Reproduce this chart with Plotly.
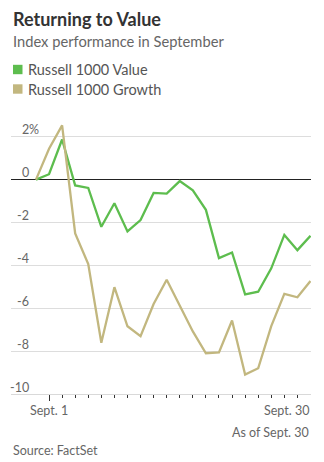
import plotly.graph_objects as go

# Trading sessions: Aug. 31 baseline plus every September session
dates = ["Aug. 31", "Sept. 1", "Sept. 2", "Sept. 3", "Sept. 4", "Sept. 8", "Sept. 9",
         "Sept. 10", "Sept. 11", "Sept. 14", "Sept. 15", "Sept. 16", "Sept. 17",
         "Sept. 18", "Sept. 21", "Sept. 22", "Sept. 23", "Sept. 24", "Sept. 25",
         "Sept. 28", "Sept. 29", "Sept. 30"]

# Cumulative change since Aug. 31, in percent
value = [0.0, 0.25, 1.87, -0.27, -0.39, -2.2, -1.1, -2.42, -1.89, -0.62, -0.65,
         -0.07, -0.5, -1.41, -3.66, -3.4, -5.35, -5.23, -4.14, -2.58, -3.29, -2.62]
growth = [0.0, 1.44, 2.53, -2.51, -3.94, -7.61, -5.02, -6.84, -7.3, -5.8, -4.67,
          -5.91, -7.08, -8.1, -8.06, -6.57, -9.09, -8.8, -6.83, -5.33, -5.49, -4.73]

series_names = ["Russell 1000 Value", "Russell 1000 Growth"]
series_colors = ["#5dbd4e", "#c2b77f"]

y_ticks = [2, 0, -2, -4, -6, -8, -10]
x_tick_labels = {1: "Sept. 1", 21: "Sept. 30"}

FONT = "Lato, 'Open Sans', sans-serif"
W, H = 324, 462
M_L, M_R, M_T, M_B = 11, 13, 120, 68
PLOT_H = H - M_T - M_B

def py(pix_y):
    """Convert a pixel row from the top of the page into paper units."""
    return (H - M_B - pix_y) / PLOT_H

def px(pix_x):
    """Convert a pixel column from the left of the page into paper units."""
    return (pix_x - M_L) / (W - M_L - M_R)

idx = list(range(len(dates)))

fig = go.Figure()
for name, vals, col in zip(series_names, [value, growth], series_colors):
    fig.add_trace(go.Scatter(
        x=idx, y=vals, mode="lines", name=name,
        line=dict(color=col, width=2.3),
        customdata=dates,
        hovertemplate="%{customdata}: %{y:.1f}%<extra>" + name + "</extra>",
        showlegend=False,
    ))

annotations = []
# Title block
annotations.append(dict(text="<b>Returning to Value</b>", x=px(11), y=py(19.5),
                        xref="paper", yref="paper", xanchor="left", yanchor="middle",
                        showarrow=False, font=dict(size=18, color="#333333", family=FONT)))
annotations.append(dict(text="Index performance in September", x=px(11), y=py(40.5),
                        xref="paper", yref="paper", xanchor="left", yanchor="middle",
                        showarrow=False, font=dict(size=14.7, color="#666666", family=FONT)))

# Legend rows
shapes = []
for i, (name, col) in enumerate(zip(series_names, series_colors)):
    cy = 69.5 + i * 19.5
    shapes.append(dict(type="rect", xref="paper", yref="paper",
                       x0=px(13), x1=px(22.5), y0=py(cy - 4.7), y1=py(cy + 4.7),
                       fillcolor=col, line=dict(width=0)))
    annotations.append(dict(text=name, x=px(26), y=py(cy), xref="paper", yref="paper",
                            xanchor="left", yanchor="middle", showarrow=False,
                            font=dict(size=14.5, color="#555555", family=FONT)))

# Y-axis labels sitting above their gridlines
for t in y_ticks:
    annotations.append(dict(text=str(t), x=px(29.5), y=t,
                            xref="paper", yref="y", xanchor="right", yanchor="middle",
                            yshift=7, showarrow=False, borderpad=0,
                            font=dict(size=12.5, color="#666666", family=FONT)))
annotations.append(dict(text="%", x=px(29.5), y=y_ticks[0], xref="paper", yref="y",
                        xanchor="left", yanchor="middle", yshift=7, xshift=-2,
                        showarrow=False, borderpad=0,
                        font=dict(size=12.5, color="#666666", family=FONT)))

# X-axis labels
annotations.append(dict(text=x_tick_labels[1], x=1, y=py(410), xref="x", yref="paper",
                        xanchor="center", yanchor="middle", showarrow=False,
                        font=dict(size=12.5, color="#666666", family=FONT)))
annotations.append(dict(text=x_tick_labels[21], x=1, y=py(410), xref="paper", yref="paper",
                        xanchor="right", yanchor="middle", showarrow=False,
                        font=dict(size=12.5, color="#666666", family=FONT)))
annotations.append(dict(text="As of Sept. 30", x=1, y=py(432.5), xref="paper", yref="paper",
                        xanchor="right", yanchor="middle", showarrow=False,
                        font=dict(size=12.5, color="#666666", family=FONT)))
annotations.append(dict(text="Source: FactSet", x=px(11), y=py(450), xref="paper", yref="paper",
                        xanchor="left", yanchor="middle", showarrow=False,
                        font=dict(size=12.5, color="#666666", family=FONT)))

fig.update_layout(
    width=W, height=H,
    margin=dict(l=M_L, r=M_R, t=M_T, b=M_B, pad=0),
    paper_bgcolor="white", plot_bgcolor="white",
    font=dict(family=FONT),
    showlegend=False,
    annotations=annotations,
    shapes=shapes,
    xaxis=dict(
        range=[-1.91, 21.04], showgrid=False, zeroline=False,
        showline=True, linecolor="#d9d9d9", linewidth=1,
        tickmode="array", tickvals=[1], ticktext=[""], showticklabels=False,
        ticks="outside", ticklen=6, tickwidth=1, tickcolor="#333333",
        minor=dict(tickmode="array", tickvals=list(range(2, 21)),
                   ticks="outside", ticklen=3, tickwidth=1, tickcolor="#333333",
                   showgrid=False),
        fixedrange=True,
    ),
    yaxis=dict(
        range=[-10, 2.78], tickmode="array", tickvals=y_ticks,
        showticklabels=False, showgrid=True, gridcolor="#dddddd", gridwidth=1,
        zeroline=True, zerolinecolor="#222222", zerolinewidth=1.3,
        showline=False, fixedrange=True,
    ),
)

fig.write_html("out.html")
